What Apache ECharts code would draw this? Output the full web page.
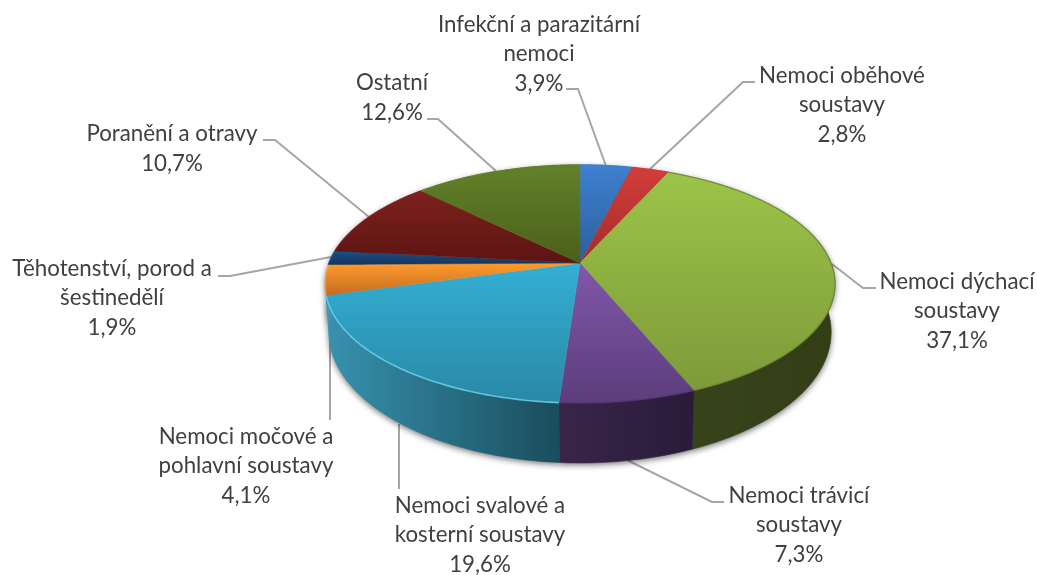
<!DOCTYPE html>
<html><head><meta charset="utf-8">
<style>html,body{margin:0;padding:0;background:#fff}#c{width:1037px;height:575px}</style>
<script src="https://cdn.jsdelivr.net/npm/echarts@6/dist/echarts.min.js"></script>
</head><body><div id="c"></div>
<script>
// ---- data ----
const categories = [
  'Infekční a parazitární\nnemoci','Nemoci oběhové\nsoustavy','Nemoci dýchací\nsoustavy',
  'Nemoci trávicí\nsoustavy','Nemoci svalové a\nkosterní soustavy','Nemoci močové a\npohlavní soustavy',
  'Těhotenství, porod a\nšestinedělí','Poranění a otravy','Ostatní'];
const shares = [3.9,2.8,37.1,7.3,19.6,4.1,1.9,10.7,12.6];

// ---- styles ----
const topTop    = ['#3f80d0','#d33d3a','#9cc449','#8058a9','#33afd4','#ff9a2e','#1f5088','#7d211e','#63812b'];
const topBottom = ['#2c5f9c','#a22d2a','#7e9a39','#5d3d7d','#2a88a6','#c46c1f','#14345c','#5c1512','#4a6018'];
const sideLeft  = ['#1d3a5e','#63201e','#38441a','#392549','#3792af','#3b98b7','#3b98b7','#4a1210','#38481a'];
const sideRight = ['#1d3a5e','#63201e','#333e17','#2a1b3a','#1a4d5c','#3b98b7','#3b98b7','#4a1210','#38481a'];
const rimColor  = ['#3f80d0','#d33d3a','#5f7828','#4e3369','#6ad4ee','#ffb060','#1f5088','#7d211e','#63812b'];
const rimOpacity = [0.8,0.8,0.45,0.6,0.8,0.6,0.8,0.8,0.8];
const textColor = '#404040';
const leaderColor = '#a6a6a6';

// ---- layout ----
const labelPos = [[539,54],[842,105],[957,311],[799,525],[480,535],[246,466],[112,298],[172,149],[392,98]];
const leaders = [
  [[566,89],[578,89],[606,166]],
  [[755,82],[743,82],[649,170]],
  [[876,288],[863,288],[832,264]],
  [[724,502],[712,502],[627,460]],
  [[399,489],[399,424]],
  [[330,420],[330,333]],
  [[218,276],[230,276],[331,257]],
  [[263,140],[275,140],[369,217]],
  [[427,119],[438,119],[496,171]]];
const cx = 580, cy = 263, a = 251, b = 115.3, k = 0.1765;
const bottomScale = 0.985, depth0 = 46, depthSlope = 0.1;

// perspective projection of a point on the pie's top face (clockwise from 12 o'clock)
function topPoint(deg) {
  const t = deg * Math.PI / 180, X = Math.sin(t), Y = -Math.cos(t), w = 1 - k * Y;
  return [cx + a * X / w, cy + b * Y / w];
}
function bottomPoint(deg) {
  const p = topPoint(deg);
  return [cx + bottomScale * (p[0] - cx), p[1] + depth0 + depthSlope * (p[1] - cy)];
}
function arc(fn, d1, d2) {
  const pts = [], n = Math.max(2, Math.ceil(Math.abs(d2 - d1)));
  for (let i = 0; i <= n; i++) pts.push(fn(d1 + (d2 - d1) * i / n));
  return pts;
}
const total = shares.reduce((s, v) => s + v, 0);
function sliceRange(i, value) {
  let before = 0;
  for (let j = 0; j < i; j++) before += shares[j];
  return [before / total * 360, (before + value) / total * 360];
}
const grad = (x2, y2, c1, c2) => new echarts.graphic.LinearGradient(0, 0, x2, y2, [{offset:0,color:c1},{offset:1,color:c2}]);
const fmt = v => v.toFixed(1).replace('.', ',') + '%';

const base = { type:'custom', coordinateSystem:'none', silent:true, animation:false, data:shares };

const option = {
  backgroundColor:'#fff',
  series:[
    // leader lines and data labels
    Object.assign({}, base, { z:1, renderItem(params, api) {
      const i = params.dataIndex, pos = labelPos[i];
      return { type:'group', children:[
        { type:'polyline', shape:{points:leaders[i]}, style:{stroke:leaderColor, lineWidth:2, fill:null} },
        { type:'text', style:{ x:pos[0], y:pos[1], text:categories[i] + '\n' + fmt(api.value(0)),
          align:'center', verticalAlign:'middle', lineHeight:29.5,
          fontFamily:'Lato', fontSize:22.3, fill:textColor } }
      ]};
    }}),
    // soft shadow under the whole body
    Object.assign({}, base, { z:2, renderItem(params, api) {
      const r = sliceRange(params.dataIndex, api.value(0));
      return { type:'polygon', shape:{points: arc(topPoint, r[0], r[1]).concat(arc(bottomPoint, r[1], r[0]))},
        style:{ fill:'#999', shadowBlur:6, shadowColor:'rgba(0,0,0,0.55)', shadowOffsetY:2 } };
    }}),
    // outer walls
    Object.assign({}, base, { z:3, renderItem(params, api) {
      const i = params.dataIndex, r = sliceRange(i, api.value(0));
      const fill = grad(1, 0, sideLeft[i], sideRight[i]);
      return { type:'polygon', shape:{points: arc(topPoint, r[0], r[1]).concat(arc(bottomPoint, r[1], r[0]))},
        style:{ fill, stroke:fill, lineWidth:0.5 } };
    }}),
    // top faces with a thin bevel along the rim
    Object.assign({}, base, { z:4, renderItem(params, api) {
      const i = params.dataIndex, r = sliceRange(i, api.value(0));
      const fill = grad(0, 1, topTop[i], topBottom[i]);
      const rim = arc(topPoint, r[0], r[1]);
      return { type:'group', children:[
        { type:'polygon', shape:{points:[[cx,cy]].concat(rim)}, style:{fill, stroke:fill, lineWidth:0.5} },
        { type:'polyline', shape:{points:rim}, style:{stroke:rimColor[i], lineWidth:1.6, fill:null, opacity:rimOpacity[i]} }
      ]};
    }})
  ]
};
echarts.init(document.getElementById('c'), null, {renderer:'canvas'}).setOption(option);
</script></body></html>
